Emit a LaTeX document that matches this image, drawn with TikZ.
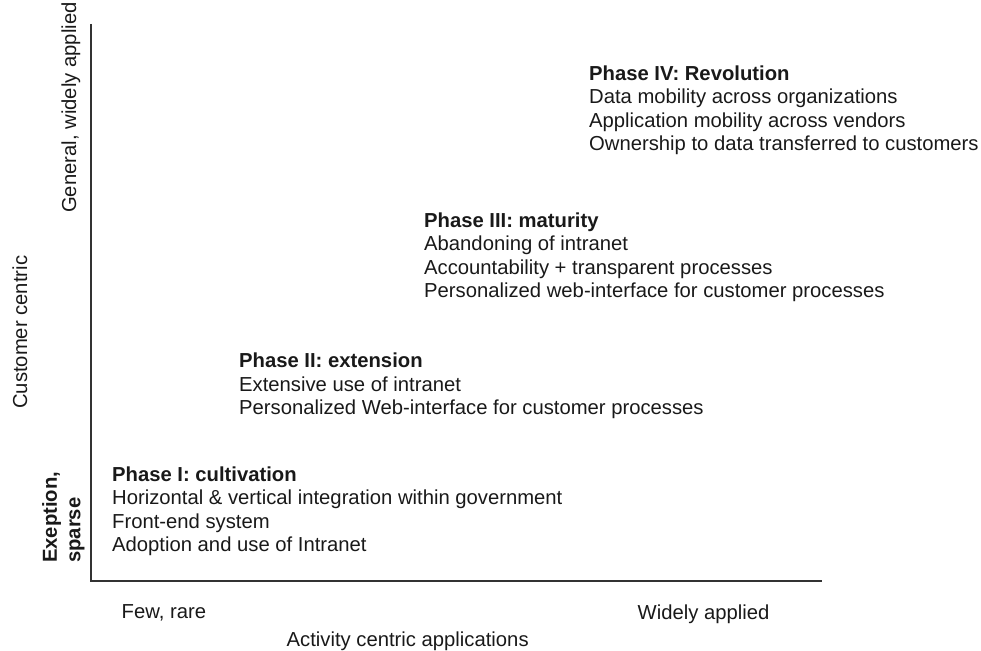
\documentclass[tikz,border=0pt]{standalone}
\usepackage{fontspec}
\setmainfont{Liberation Sans}
\begin{document}
\begin{tikzpicture}[x=1pt,y=-1pt,
  txt/.style={inner sep=0pt, font=\fontsize{20.25}{23.5}\selectfont, text=black!90},
  block/.style={txt, align=left, anchor=north west},
  lbl/.style={txt, anchor=base west},
  vlbl/.style={txt, anchor=base west, rotate=90},
  axisline/.style={draw=black!80, line width=2.6pt}]
\useasboundingbox (0,0) rectangle (981,650);
% axes
\coordinate (ytop) at (91,24);
\coordinate (origin) at (91,581);
\coordinate (xend) at (822,581);
\draw[axisline] (ytop) -- (origin) -- (xend);
% phase blocks
\node[block] (p4) at (589,65.4) {\textbf{Phase IV: Revolution}\\Data mobility across organizations\\Application mobility across vendors\\Ownership to data transferred to customers};
\node[block] (p3) at (424,212.4) {\textbf{Phase III: maturity}\\Abandoning of intranet\\Accountability + transparent processes\\Personalized web-interface for customer processes};
\node[block] (p2) at (239,352.7) {\textbf{Phase II: extension}\\Extensive use of intranet\\Personalized Web-interface for customer processes};
\node[block] (p1) at (112,466.5) {\textbf{Phase I: cultivation}\\Horizontal \& vertical integration within government\\Front-end system\\Adoption and use of Intranet};
% x-axis labels
\node[lbl] (few) at (121.5,618) {Few, rare};
\node[lbl] (wide) at (637.5,619) {Widely applied};
\node[lbl] (xtitle) at (286.5,646) {Activity centric applications};
% y-axis labels
\node[vlbl] (general) at (76,213) {General, widely applied};
\node[vlbl] (ytitle) at (27,409) {Customer centric};
\node[txt, rotate=90, align=left, anchor=north west, font=\fontsize{20.25}{23.5}\selectfont\bfseries] (sparse) at (42,563) {Exeption,\\sparse};
\end{tikzpicture}
\end{document}
